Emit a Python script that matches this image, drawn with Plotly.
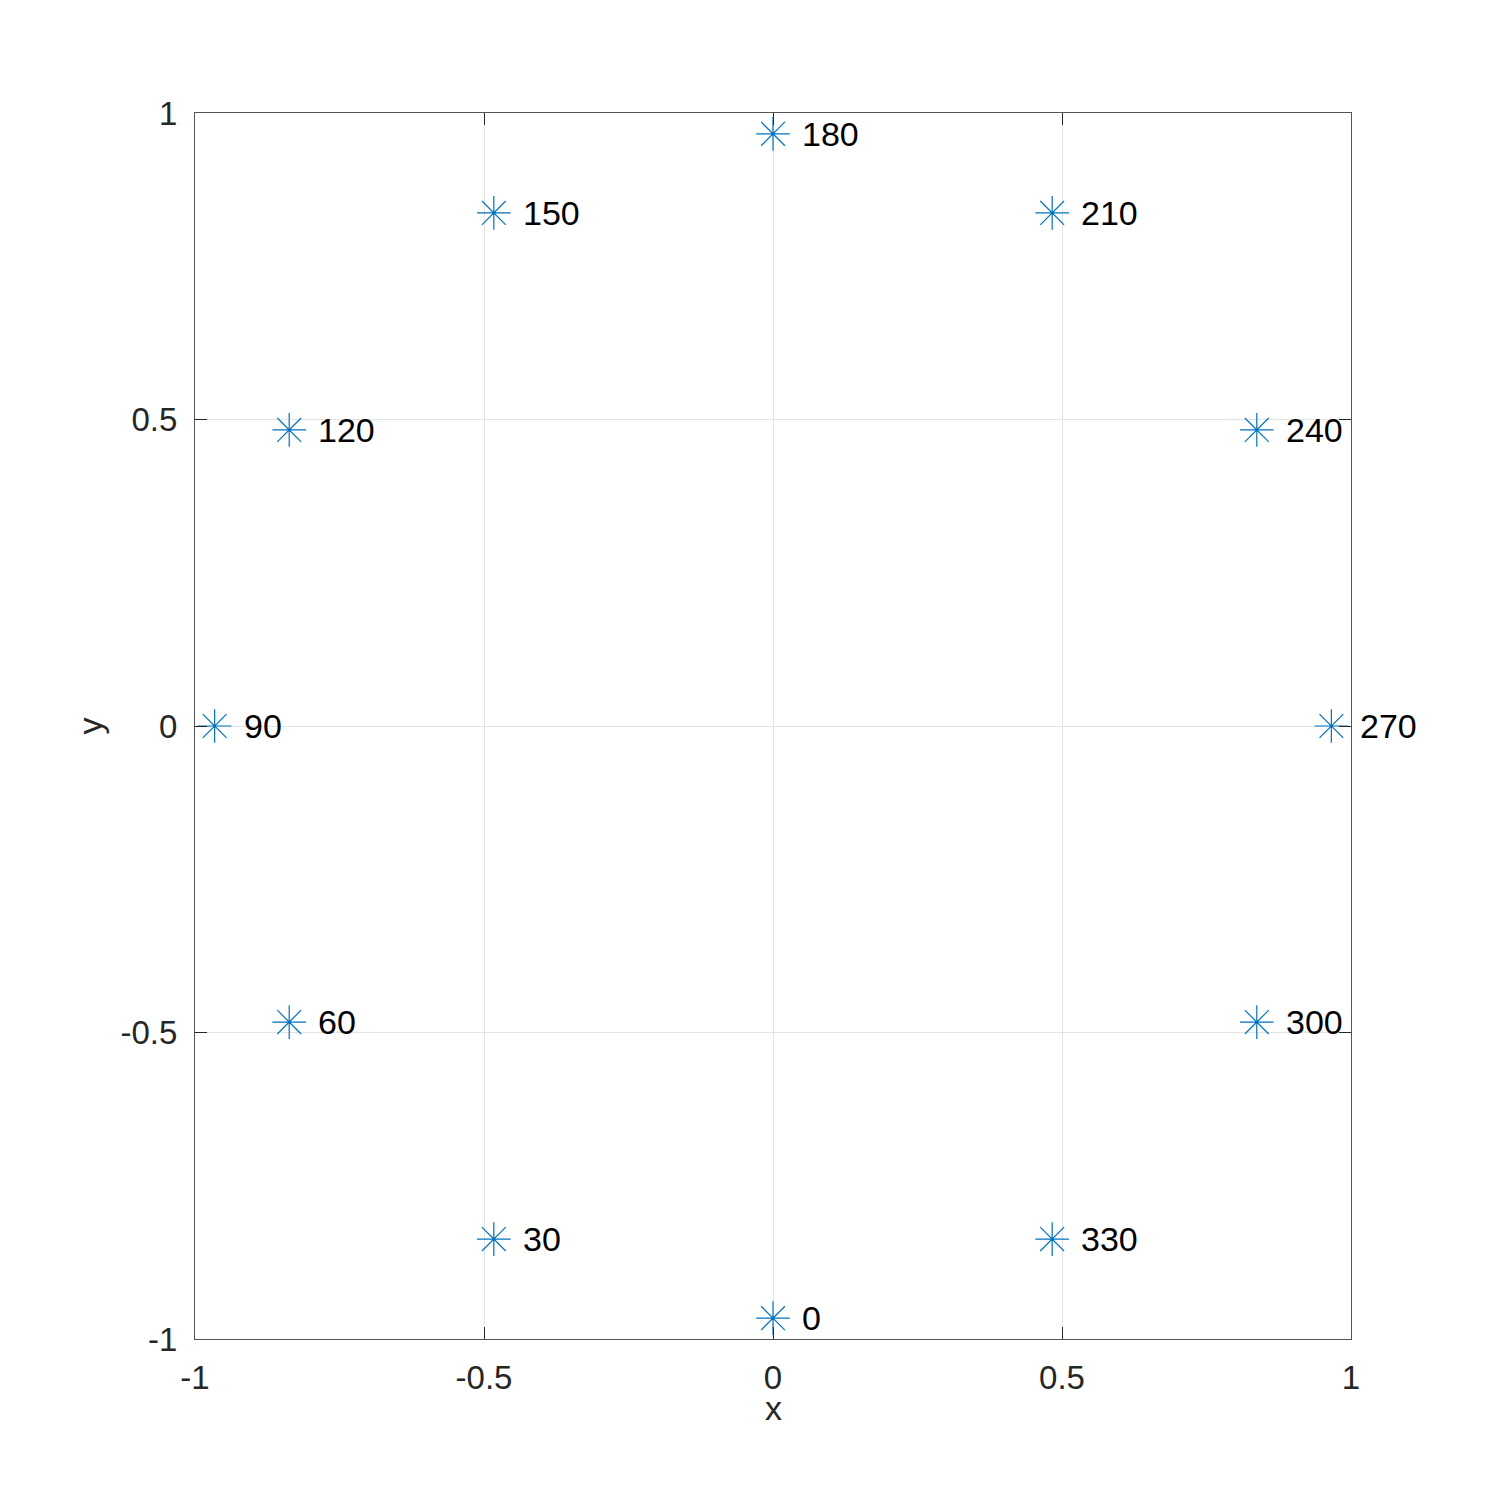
import plotly.graph_objects as go

labels = ["0", "30", "60", "90", "120", "150", "180", "210", "240", "270", "300", "330"]
x_vals = [0.0, -0.483, -0.837, -0.966, -0.837, -0.483, 0.0, 0.483, 0.837, 0.966, 0.837, 0.483]
y_vals = [-0.966, -0.837, -0.483, 0.0, 0.483, 0.837, 0.966, 0.837, 0.483, 0.0, -0.483, -0.837]

tick_vals = [-1, -0.5, 0, 0.5, 1]
tick_text = ["-1", "-0.5", "0", "0.5", "1"]

FONT = "Liberation Sans, Arial, Helvetica, sans-serif"
BLUE = "#0072BD"

fig = go.Figure()
fig.add_trace(go.Scatter(
    x=x_vals, y=y_vals, mode="markers",
    marker=dict(symbol="asterisk-open", size=28, color=BLUE,
                line=dict(color=BLUE, width=1.2)),
    hoverinfo="skip", showlegend=False,
))

for xv, yv, lab in zip(x_vals, y_vals, labels):
    fig.add_annotation(x=xv, y=yv, text=lab, showarrow=False,
                       xanchor="left", yanchor="middle", xshift=27,
                       font=dict(family=FONT, size=34, color="#000000"))

# x axis title
fig.add_annotation(x=0.5, y=0, xref="paper", yref="paper", text="x", showarrow=False,
                   xanchor="center", yanchor="middle", yshift=-69,
                   font=dict(family=FONT, size=34, color="#262626"))

axis_common = dict(
    range=[-1, 1], tickvals=tick_vals, ticktext=tick_text,
    showgrid=True, gridcolor="#e3e3e3", gridwidth=1,
    zeroline=False, showline=True, linecolor="#555555", linewidth=1,
    mirror="ticks", ticks="inside", ticklen=12, tickcolor="#262626",
    tickfont=dict(family=FONT, size=33, color="#262626"),
)

fig.update_xaxes(**axis_common, ticklabelstandoff=9)
fig.update_yaxes(**axis_common,
                 title=dict(text="y", font=dict(family=FONT, size=34, color="#262626"), standoff=7),
                 ticklabelstandoff=10)

fig.update_layout(
    width=1492, height=1505,
    margin=dict(l=187, r=149, t=105, b=174, autoexpand=False),
    paper_bgcolor="white", plot_bgcolor="white",
    font=dict(family=FONT),
)

fig.write_html("out.html")
